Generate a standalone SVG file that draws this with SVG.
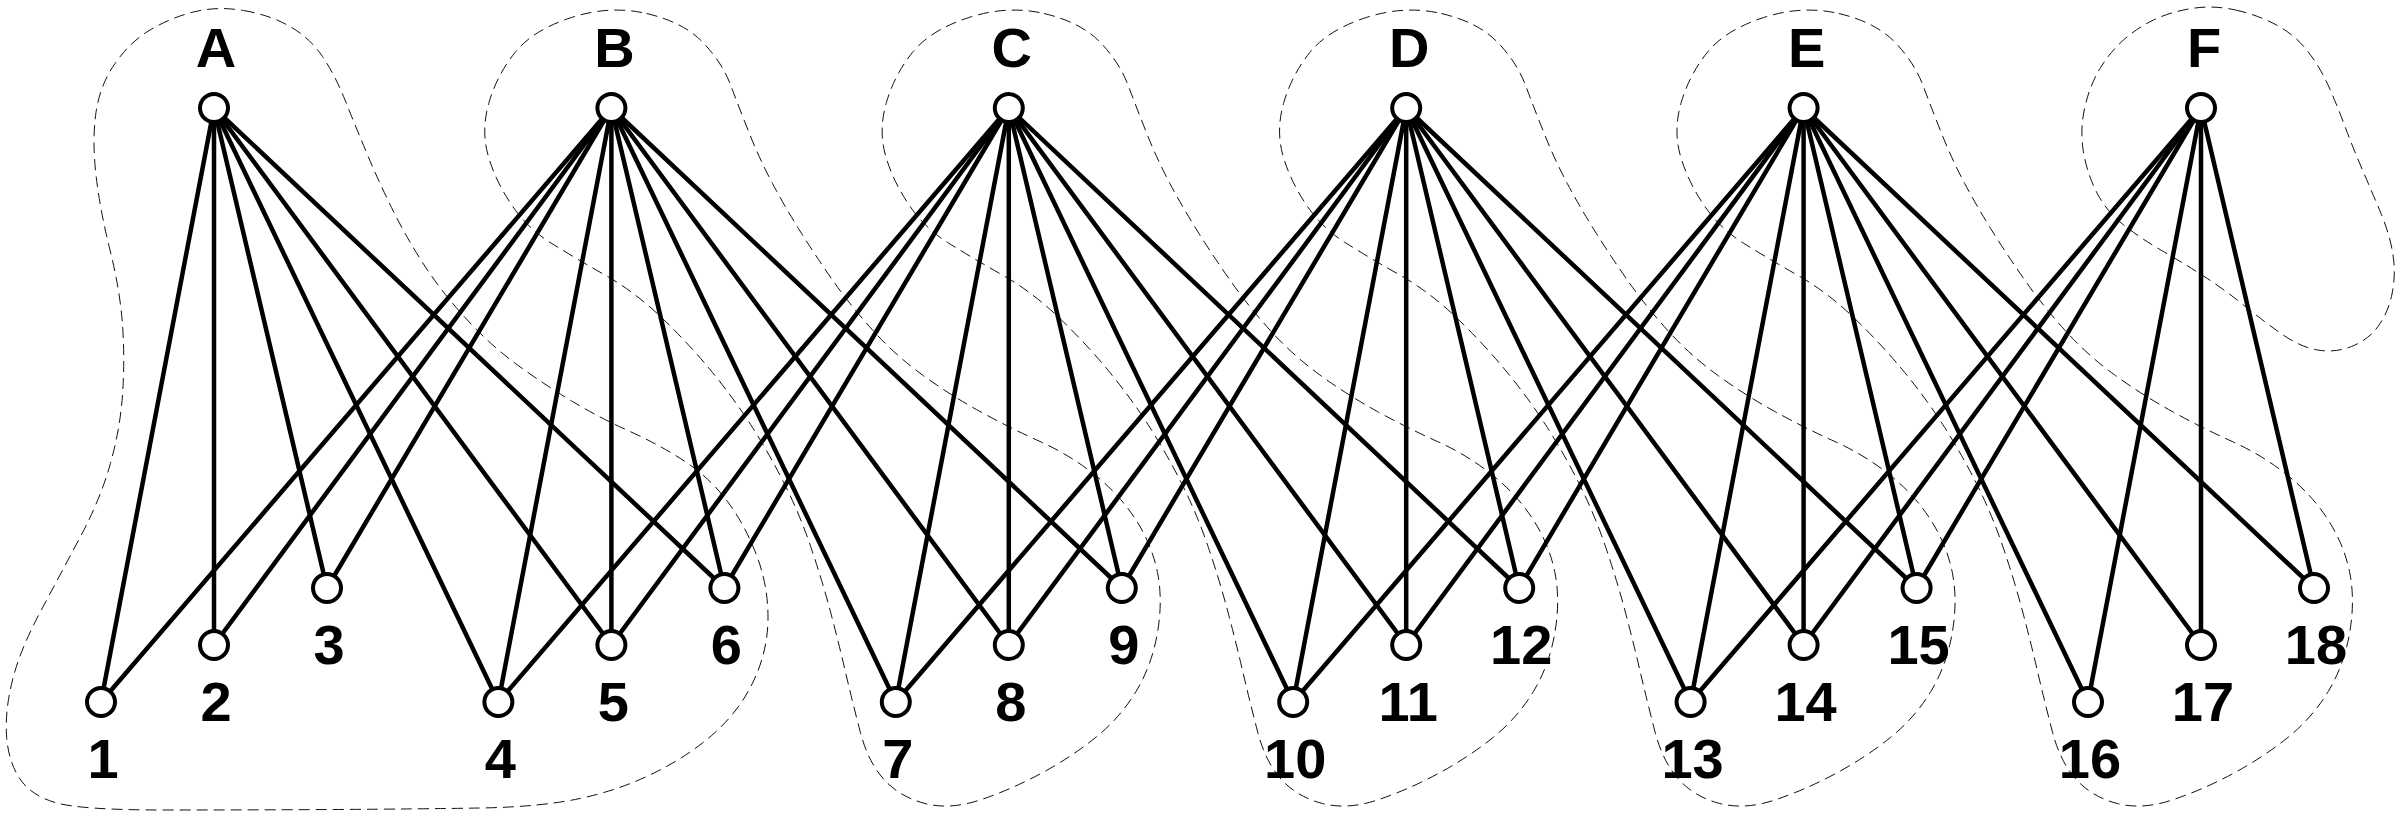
<svg xmlns="http://www.w3.org/2000/svg" xmlns:xlink="http://www.w3.org/1999/xlink" width="2400" height="813" viewBox="0 0 2400 813">
<style>
.blob{fill:none;stroke:#111;stroke-width:1;stroke-dasharray:11 6}
.edge{stroke:#000;stroke-width:4.5;stroke-linecap:round}
.node{fill:#fff;stroke:#000;stroke-width:4}
.lbl{font-family:"Liberation Sans",Arial,sans-serif;font-weight:bold;font-size:56px;fill:#000;text-anchor:middle}
</style>
<defs>
<path id="blobB" d="M646.5,13.5 Q683,22 702.5,42 Q722,62 731,86 Q740,110 750,135 Q760,160 772.5,183.5 Q785,207 800,231 Q815,255 832.5,280 Q850,305 872.5,330 Q895,355 922.5,375 Q950,395 980,411.5 Q1010,428 1040,441.5 Q1070,455 1095,475 Q1120,495 1136,520 Q1152,545 1157.5,572.5 Q1163,600 1157.5,632.5 Q1152,665 1136,691.5 Q1120,718 1095,738 Q1070,758 1040,774 Q1010,790 980,800 Q950,810 925,803.5 Q900,797 884,779.5 Q868,762 860,731 Q852,700 845,670 Q838,640 830,610 Q822,580 811,547.5 Q800,515 785,485 Q770,455 752.5,427.5 Q735,400 712.5,372.5 Q690,345 662.5,318.5 Q635,292 605,275 Q575,258 551,243 Q527,228 511,204 Q495,180 488,155 Q481,130 489,102.5 Q497,75 515,52.5 Q533,30 571.5,17.5 Q610,5 646.5,13.5 Z"/>
</defs>
<g id="blobs">
<path id="blob-A" class="blob" d="M243.5,10.5 Q270,15 290,26.5 Q310,38 322.5,56.5 Q335,75 345,100 Q355,125 366.5,152.5 Q378,180 391.5,207.5 Q405,235 422.5,262.5 Q440,290 465,317.5 Q490,345 517.5,365 Q545,385 572.5,401.5 Q600,418 630,431.5 Q660,445 685,461.5 Q710,478 727.5,501.5 Q745,525 756.5,555 Q768,585 768,617.5 Q768,650 754,680 Q740,710 715,732.5 Q690,755 655,772.5 Q620,790 580,798.5 Q540,807 480,808 Q420,809 335,809.5 Q250,810 165,810 Q80,810 55,802.5 Q30,795 19,777.5 Q8,760 6.5,735 Q5,710 12.5,680 Q20,650 40,612.5 Q60,575 80,537.5 Q100,500 110,465 Q120,430 122.5,395 Q125,360 122.5,325 Q120,290 110,250 Q100,210 96,175 Q92,140 96,112.5 Q100,85 115,63.5 Q130,42 150,30 Q170,18 193.5,12 Q217,6 243.5,10.5 Z"/>
<use id="blob-B" class="blob" xlink:href="#blobB" href="#blobB"/>
<use id="blob-C" class="blob" xlink:href="#blobB" href="#blobB" transform="translate(397.4,0)"/>
<use id="blob-D" class="blob" xlink:href="#blobB" href="#blobB" transform="translate(794.8,0)"/>
<use id="blob-E" class="blob" xlink:href="#blobB" href="#blobB" transform="translate(1192.2,0)"/>
<path id="blob-F" class="blob" d="M2235.5,10 Q2258,15 2276.5,25 Q2295,35 2307.5,51 Q2320,67 2328.5,86 Q2337,105 2345,126.5 Q2353,148 2362.5,170 Q2372,192 2381,213.5 Q2390,235 2393,255 Q2396,275 2392,294 Q2388,313 2378,326.5 Q2368,340 2351.5,346.5 Q2335,353 2317.5,350 Q2300,347 2281,333.5 Q2262,320 2243.5,305 Q2225,290 2205,277 Q2185,264 2162.5,251 Q2140,238 2122.5,224 Q2105,210 2095.5,190 Q2086,170 2083,149 Q2080,128 2085,106.5 Q2090,85 2100,68.5 Q2110,52 2123.5,40 Q2137,28 2153.5,20 Q2170,12 2191.5,8.5 Q2213,5 2235.5,10 Z"/>
</g>
<g id="connectors">
<line class="edge" x1="214" y1="108" x2="101" y2="702"/>
<line class="edge" x1="214" y1="108" x2="214" y2="645"/>
<line class="edge" x1="214" y1="108" x2="327" y2="588"/>
<line class="edge" x1="214" y1="108" x2="498.4" y2="702"/>
<line class="edge" x1="214" y1="108" x2="611.4" y2="645"/>
<line class="edge" x1="214" y1="108" x2="724.4" y2="588"/>
<line class="edge" x1="611.4" y1="108" x2="101" y2="702"/>
<line class="edge" x1="611.4" y1="108" x2="214" y2="645"/>
<line class="edge" x1="611.4" y1="108" x2="327" y2="588"/>
<line class="edge" x1="611.4" y1="108" x2="498.4" y2="702"/>
<line class="edge" x1="611.4" y1="108" x2="611.4" y2="645"/>
<line class="edge" x1="611.4" y1="108" x2="724.4" y2="588"/>
<line class="edge" x1="611.4" y1="108" x2="895.8" y2="702"/>
<line class="edge" x1="611.4" y1="108" x2="1008.8" y2="645"/>
<line class="edge" x1="611.4" y1="108" x2="1121.8" y2="588"/>
<line class="edge" x1="1008.8" y1="108" x2="498.4" y2="702"/>
<line class="edge" x1="1008.8" y1="108" x2="611.4" y2="645"/>
<line class="edge" x1="1008.8" y1="108" x2="724.4" y2="588"/>
<line class="edge" x1="1008.8" y1="108" x2="895.8" y2="702"/>
<line class="edge" x1="1008.8" y1="108" x2="1008.8" y2="645"/>
<line class="edge" x1="1008.8" y1="108" x2="1121.8" y2="588"/>
<line class="edge" x1="1008.8" y1="108" x2="1293.2" y2="702"/>
<line class="edge" x1="1008.8" y1="108" x2="1406.2" y2="645"/>
<line class="edge" x1="1008.8" y1="108" x2="1519.2" y2="588"/>
<line class="edge" x1="1406.2" y1="108" x2="895.8" y2="702"/>
<line class="edge" x1="1406.2" y1="108" x2="1008.8" y2="645"/>
<line class="edge" x1="1406.2" y1="108" x2="1121.8" y2="588"/>
<line class="edge" x1="1406.2" y1="108" x2="1293.2" y2="702"/>
<line class="edge" x1="1406.2" y1="108" x2="1406.2" y2="645"/>
<line class="edge" x1="1406.2" y1="108" x2="1519.2" y2="588"/>
<line class="edge" x1="1406.2" y1="108" x2="1690.6" y2="702"/>
<line class="edge" x1="1406.2" y1="108" x2="1803.6" y2="645"/>
<line class="edge" x1="1406.2" y1="108" x2="1916.6" y2="588"/>
<line class="edge" x1="1803.6" y1="108" x2="1293.2" y2="702"/>
<line class="edge" x1="1803.6" y1="108" x2="1406.2" y2="645"/>
<line class="edge" x1="1803.6" y1="108" x2="1519.2" y2="588"/>
<line class="edge" x1="1803.6" y1="108" x2="1690.6" y2="702"/>
<line class="edge" x1="1803.6" y1="108" x2="1803.6" y2="645"/>
<line class="edge" x1="1803.6" y1="108" x2="1916.6" y2="588"/>
<line class="edge" x1="1803.6" y1="108" x2="2088" y2="702"/>
<line class="edge" x1="1803.6" y1="108" x2="2201" y2="645"/>
<line class="edge" x1="1803.6" y1="108" x2="2314" y2="588"/>
<line class="edge" x1="2201" y1="108" x2="1690.6" y2="702"/>
<line class="edge" x1="2201" y1="108" x2="1803.6" y2="645"/>
<line class="edge" x1="2201" y1="108" x2="1916.6" y2="588"/>
<line class="edge" x1="2201" y1="108" x2="2088" y2="702"/>
<line class="edge" x1="2201" y1="108" x2="2201" y2="645"/>
<line class="edge" x1="2201" y1="108" x2="2314" y2="588"/>
</g>
<g id="node-A"><circle class="node" cx="214" cy="108" r="14"/><text class="lbl" x="216" y="67">A</text></g>
<g id="node-B"><circle class="node" cx="611.4" cy="108" r="14"/><text class="lbl" x="614.4" y="67">B</text></g>
<g id="node-C"><circle class="node" cx="1008.8" cy="108" r="14"/><text class="lbl" x="1011.8" y="67">C</text></g>
<g id="node-D"><circle class="node" cx="1406.2" cy="108" r="14"/><text class="lbl" x="1409.2" y="67">D</text></g>
<g id="node-E"><circle class="node" cx="1803.6" cy="108" r="14"/><text class="lbl" x="1806.6" y="67">E</text></g>
<g id="node-F"><circle class="node" cx="2201" cy="108" r="14"/><text class="lbl" x="2204" y="67">F</text></g>
<g id="node-1"><circle class="node" cx="101" cy="702" r="14"/><text class="lbl" x="103" y="778">1</text></g>
<g id="node-2"><circle class="node" cx="214" cy="645" r="14"/><text class="lbl" x="216" y="721">2</text></g>
<g id="node-3"><circle class="node" cx="327" cy="588" r="14"/><text class="lbl" x="329" y="664">3</text></g>
<g id="node-4"><circle class="node" cx="498.4" cy="702" r="14"/><text class="lbl" x="500.4" y="778">4</text></g>
<g id="node-5"><circle class="node" cx="611.4" cy="645" r="14"/><text class="lbl" x="613.4" y="721">5</text></g>
<g id="node-6"><circle class="node" cx="724.4" cy="588" r="14"/><text class="lbl" x="726.4" y="664">6</text></g>
<g id="node-7"><circle class="node" cx="895.8" cy="702" r="14"/><text class="lbl" x="897.8" y="778">7</text></g>
<g id="node-8"><circle class="node" cx="1008.8" cy="645" r="14"/><text class="lbl" x="1010.8" y="721">8</text></g>
<g id="node-9"><circle class="node" cx="1121.8" cy="588" r="14"/><text class="lbl" x="1123.8" y="664">9</text></g>
<g id="node-10"><circle class="node" cx="1293.2" cy="702" r="14"/><text class="lbl" x="1295.2" y="778">10</text></g>
<g id="node-11"><circle class="node" cx="1406.2" cy="645" r="14"/><text class="lbl" x="1408.2" y="721">11</text></g>
<g id="node-12"><circle class="node" cx="1519.2" cy="588" r="14"/><text class="lbl" x="1521.2" y="664">12</text></g>
<g id="node-13"><circle class="node" cx="1690.6" cy="702" r="14"/><text class="lbl" x="1692.6" y="778">13</text></g>
<g id="node-14"><circle class="node" cx="1803.6" cy="645" r="14"/><text class="lbl" x="1805.6" y="721">14</text></g>
<g id="node-15"><circle class="node" cx="1916.6" cy="588" r="14"/><text class="lbl" x="1918.6" y="664">15</text></g>
<g id="node-16"><circle class="node" cx="2088" cy="702" r="14"/><text class="lbl" x="2090" y="778">16</text></g>
<g id="node-17"><circle class="node" cx="2201" cy="645" r="14"/><text class="lbl" x="2203" y="721">17</text></g>
<g id="node-18"><circle class="node" cx="2314" cy="588" r="14"/><text class="lbl" x="2316" y="664">18</text></g>
</svg>
